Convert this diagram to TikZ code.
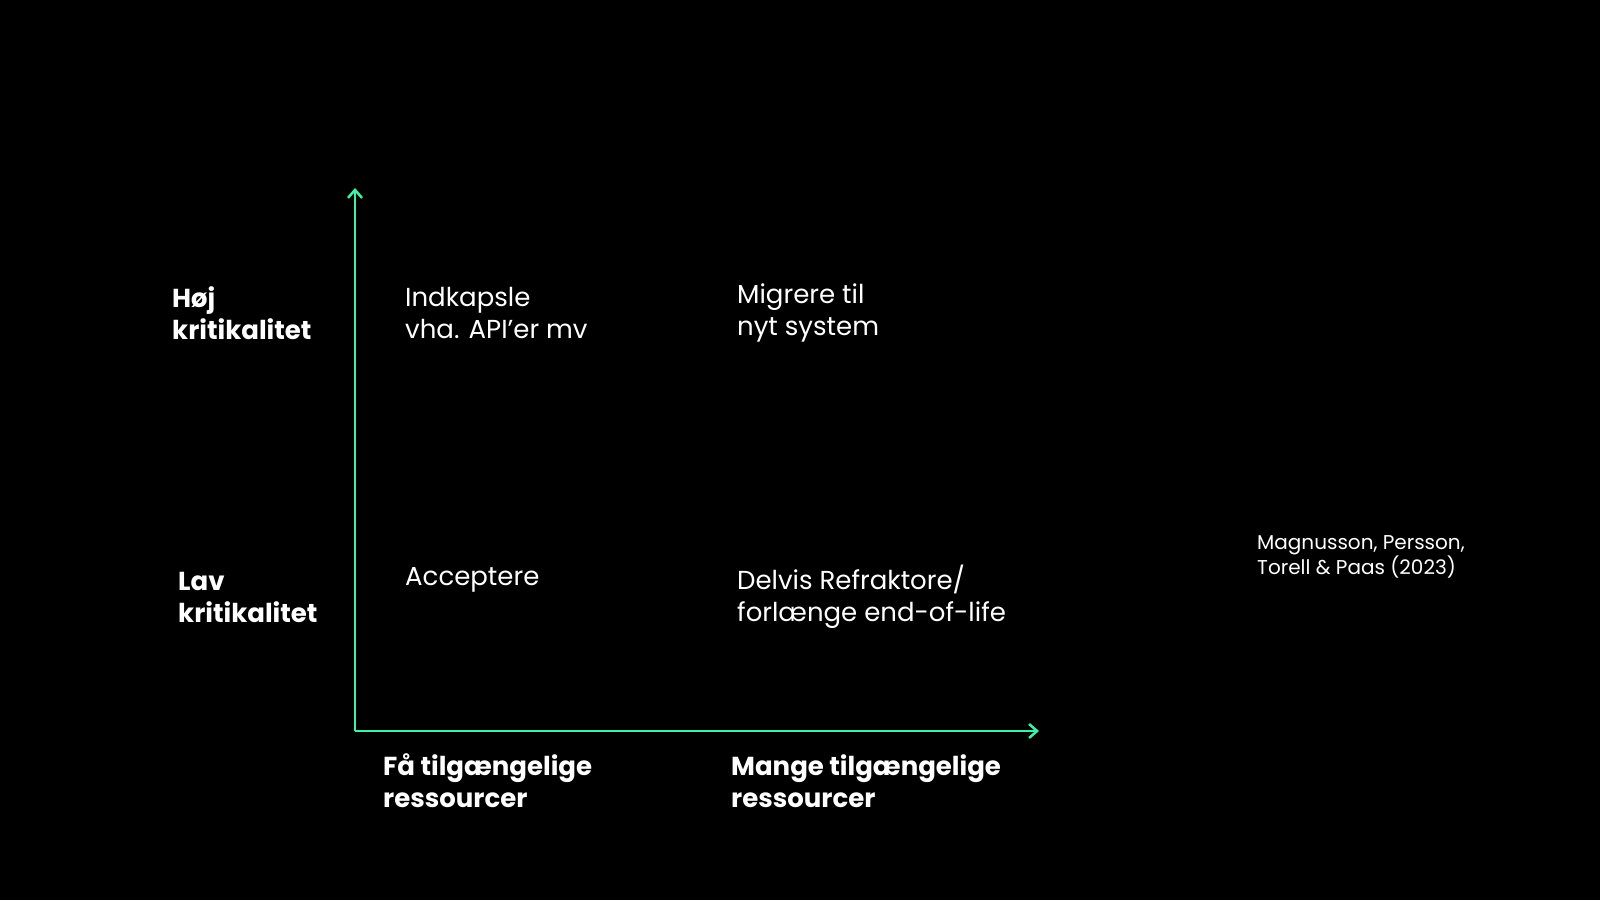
\documentclass[tikz,border=0pt]{standalone}
\usepackage{fontspec}
\setmainfont{Poppins}
\usetikzlibrary{arrows.meta}
\definecolor{axisgreen}{HTML}{3DF2A6}
\tikzset{
  lbl/.style={anchor=west,align=left,text=white,font=\fontsize{26}{32}\selectfont\bfseries,inner sep=0pt},
  cell/.style={anchor=west,align=left,text=white,font=\fontsize{26}{32}\selectfont,inner sep=0pt},
  axis/.style={axisgreen,line width=2.5pt,-{Straight Barb[length=8pt,width=14pt]}}
}
\begin{document}
\begin{tikzpicture}[x=1pt,y=-1pt]
      \fill[black] (0,0) rectangle (1600,900);
      \useasboundingbox (0,0) rectangle (1600,900);
      \coordinate (origin) at (355,731);
      \coordinate (ytop) at (355,188);
      \coordinate (xend) at (1039,731);
      \draw[axis] (origin) -- (ytop);
      \draw[axis] (origin) -- (xend);
      \node[lbl] (hoj) at (172,313) {Høj\\kritikalitet};
      \node[lbl] (lav) at (178,597) {Lav\\kritikalitet};
      \node[lbl] (faa) at (383,781) {Få tilgængelige\\ressourcer};
      \node[lbl] (mange) at (731,781) {Mange tilgængelige\\ressourcer};
      \node[cell] (indkapsle) at (405,313) {Indkapsle\\vha. API’er mv};
      \node[cell] (migrere) at (737,313) {Migrere til\\nyt system};
      \node[cell] (acceptere) at (405,580) {Acceptere};
      \node[cell] (delvis) at (737,597) {Delvis Refraktore/\\forlænge end-of-life};
      \node[cell,font=\fontsize{20}{24}\selectfont] (kilde) at (1257,557) {Magnusson, Persson,\\Torell \& Paas (2023)};
\end{tikzpicture}
\end{document}
